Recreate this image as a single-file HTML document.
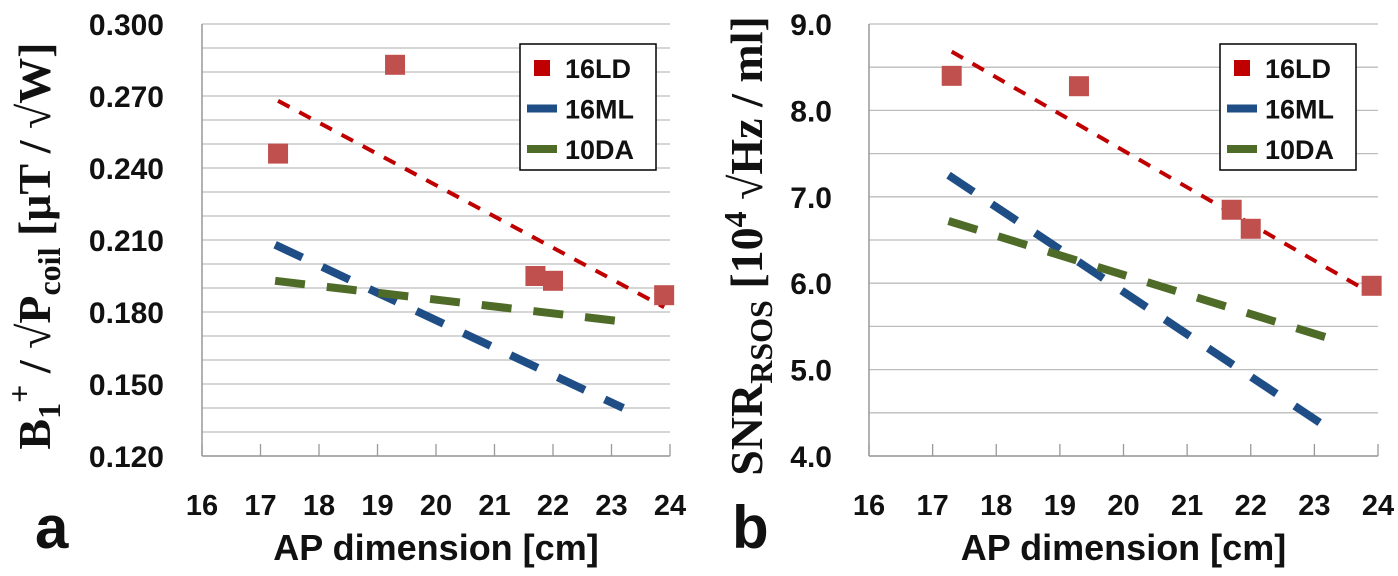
<!DOCTYPE html>
<html><head><meta charset="utf-8"><style>
body{margin:0;background:#fff;width:1398px;height:576px;overflow:hidden}
svg{display:block;font-family:"Liberation Sans",sans-serif}
</style></head><body>
<svg id="s" width="1398" height="576"></svg>
<script>
const xTicks=[16,17,18,19,20,21,22,23,24];
const ldX=[17.3,19.3,21.7,22.0,23.9];
const ldA=[0.246,0.283,0.195,0.193,0.187];
const ldB=[8.40,8.28,6.85,6.63,5.97];
const trendX=[17.3,23.9];
const ldTrendA=[0.268,0.182];
const ldTrendB=[8.68,5.88];
const mlX=[17.25,23.2];
const mlA=[0.208,0.140];
const mlB=[7.25,4.33];
const daA=[0.193,0.176];
const daB=[6.72,5.37];
const yTicksA=["0.120","0.150","0.180","0.210","0.240","0.270","0.300"];
const yTicksB=["4.0","5.0","6.0","7.0","8.0","9.0"];
const legendNames=["16LD","16ML","10DA"];

const NS="http://www.w3.org/2000/svg";
const svg=document.getElementById('s');
function mk(tag,attrs,parent){const e=document.createElementNS(NS,tag);for(const k in attrs)e.setAttribute(k,attrs[k]);(parent||svg).appendChild(e);return e;}

function panel(cfg){
  const g=mk('g',{});
  
  
  const X=v=>cfg.x0+(v-16)/(24-16)*(cfg.x1-cfg.x0);
  const Y=v=>cfg.yb+(v-cfg.ymin)/(cfg.ymax-cfg.ymin)*(cfg.yt-cfg.yb);
  for(let v=cfg.ymin;v<=cfg.ymax+1e-9;v+=cfg.minor){
    const l=mk('line',{x1:X(16),x2:X(24),y1:Y(v),y2:Y(v),stroke:'#bdbdbd','stroke-width':1.3},g);
    
    
  }
  const ya=mk('line',{x1:X(16),x2:X(16),y1:Y(cfg.ymin),y2:Y(cfg.ymax),stroke:'#999','stroke-width':1.5},g);
  
  const xa=mk('line',{x1:X(16),x2:X(24),y1:Y(cfg.ymin),y2:Y(cfg.ymin),stroke:'#999','stroke-width':1.5},g);
  
  xTicks.forEach(t=>{
    const tk=mk('line',{x1:X(t),x2:X(t),y1:Y(cfg.ymin),y2:Y(cfg.ymin)-12,stroke:'#999','stroke-width':1.3},g);
    
    const tl=mk('text',{x:X(t),y:515,'text-anchor':'middle','font-size':29,'font-weight':'bold',fill:'#111'},g);
    tl.textContent=t;
    
  });
  cfg.yTicks.forEach(s=>{
    const t=mk('text',{x:cfg.lblRight,y:Y(parseFloat(s))+11,'text-anchor':'end','font-size':30,'font-weight':'bold',fill:'#111'},g);
    t.textContent=s;
    
  });
  const tr=(xs,ys,col,w,dash,name)=>{
    const l=mk('line',{x1:X(xs[0]),y1:Y(ys[0]),x2:X(xs[1]),y2:Y(ys[1]),stroke:col,'stroke-width':w,'stroke-dasharray':dash},g);
    
  };
  tr(mlX,cfg.ml,'#1f4e87',8,'30 22','trend-16ml');
  tr(mlX,cfg.da,'#4f6b28',8,'30 22','trend-10da');
  tr(trendX,cfg.ldT,'#c00000',4,'13 11','trend-16ld');
  ldX.forEach((x,i)=>{
    const r=mk('rect',{x:X(x)-10,y:Y(cfg.ld[i])-10,width:20,height:20,fill:'#c0504d'},g);
    
  });
  const lg=mk('g',{},g);
  
  mk('rect',{x:cfg.lx,y:44,width:136,height:126,fill:'#fff',stroke:'#000','stroke-width':1.5},lg);
  const cols=['#c00000','#1f4e87','#4f6b28'];
  legendNames.forEach((n,i)=>{
    const cy=68+i*40.5;
    const e=mk('g',{},lg);
    
    if(i==0) mk('rect',{x:cfg.lx+14,y:cy-8,width:16,height:16,fill:cols[i]},e);
    else mk('rect',{x:cfg.lx+7,y:cy-4,width:30,height:8,fill:cols[i]},e);
    const t=mk('text',{x:cfg.lx+45,y:cy+10,'font-size':27,'font-weight':'bold',fill:'#111'},e);
    t.textContent=n;
  });
  const xt=mk('text',{x:(cfg.x0+cfg.x1)/2,y:560,'text-anchor':'middle','font-size':36,'font-weight':'bold',fill:'#111'},g);
  xt.textContent='AP dimension [cm]';
  
  const pl=mk('text',{x:cfg.plx,y:548,'font-size':60,'font-weight':'bold',fill:'#111'},g);
  pl.textContent=cfg.label;
  
}
panel({name:'chart-a',x0:202,x1:670,yt:24,yb:456,ymin:0.12,ymax:0.30,minor:0.01,yTicks:yTicksA,ld:ldA,ldT:ldTrendA,ml:mlA,da:daA,lx:520,label:'a',lblRight:164,plx:35});
panel({name:'chart-b',x0:869,x1:1378,yt:24,yb:456,ymin:4,ymax:9,minor:0.5,yTicks:yTicksB,ld:ldB,ldT:ldTrendB,ml:mlB,da:daB,lx:1220,label:'b',lblRight:832,plx:732});

function ytitle(x,y,html,name){
  const t=mk('text',{transform:`translate(${x},${y}) rotate(-90)`,'text-anchor':'middle','font-size':46,'font-weight':'bold',fill:'#111','font-family':'"Liberation Serif",serif'});
  t.innerHTML=html;
  
  
}
ytitle(50,246,'B<tspan font-size="32" dy="10">1</tspan><tspan font-size="32" dy="-30">+</tspan><tspan dy="20"> / √P</tspan><tspan font-size="32" dy="10">coil</tspan><tspan dy="-10">     [μT / √W]</tspan>','y-axis-title-a');
ytitle(762,246,'SNR<tspan font-size="32" dy="10">RSOS</tspan><tspan dy="-10">    [10</tspan><tspan font-size="32" dy="-16">4</tspan><tspan dy="16"> √Hz / ml]</tspan>','y-axis-title-b');
</script>
</body></html>
